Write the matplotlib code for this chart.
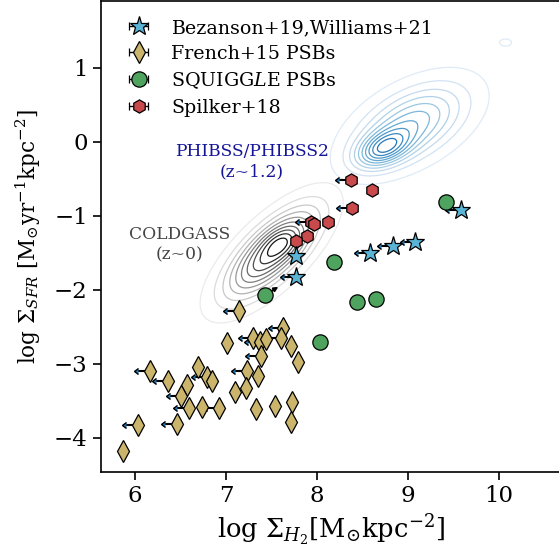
import numpy as np
import matplotlib.pyplot as plt

plt.rcParams['font.family'] = 'serif'
plt.rcParams['font.serif'] = ['DejaVu Serif']
plt.rcParams['mathtext.fontset'] = 'dejavuserif'

# Bezanson+19, Williams+21
bez_x = [9.58, 9.08, 8.83, 8.58, 7.77, 7.77]
bez_y = [-0.92, -1.35, -1.41, -1.50, -1.54, -1.83]
bez_lim = [True, True, True, True, False, True]

# French+15 PSBs
fre_x = [7.14, 7.63, 7.01, 7.30, 7.37, 7.44, 7.60, 7.71, 7.38, 7.79,
         6.16, 6.36, 6.69, 6.79, 6.84, 6.57, 7.23, 7.35, 7.22, 7.10,
         6.51, 6.59, 6.73, 6.92, 7.33, 7.54, 7.72, 7.71, 6.46, 6.03, 5.87]
fre_y = [-2.28, -2.51, -2.72, -2.65, -2.71, -2.66, -2.65, -2.76, -2.89, -2.97,
         -3.09, -3.23, -3.04, -3.18, -3.23, -3.28, -3.09, -3.17, -3.33, -3.38,
         -3.44, -3.59, -3.58, -3.59, -3.61, -3.57, -3.52, -3.79, -3.81, -3.83, -4.18]
fre_lim = [True, True, False, True, True, False, True, False, True, False,
           True, True, False, True, False, False, True, False, False, False,
           True, True, False, True, False, False, False, False, True, True, False]

# SQUIGGLE PSBs
squ_x = [9.42, 8.18, 8.44, 8.65, 8.03, 7.43]
squ_y = [-0.82, -1.63, -2.17, -2.12, -2.71, -2.07]

# Spilker+18
spi_x = [8.37, 8.60, 8.38, 8.12, 7.93, 7.97, 7.89, 7.77]
spi_y = [-0.52, -0.65, -0.89, -1.08, -1.08, -1.11, -1.28, -1.34]
spi_lim = [True, False, True, False, True, False, False, False]

# gaussian pieces standing in for the survey KDEs: x, y, sx, sy, rho, amplitude
cold_comp = [(7.50, -1.50, 0.34, 0.41, 0.72, 1.0),
             (7.62, -1.37, 0.14, 0.14, 0.30, 0.20)]
phi_comp = [(9.03, 0.23, 0.40, 0.36, 0.50, 0.60),
            (8.72, -0.10, 0.20, 0.17, 0.40, 0.60),
            (10.07, 1.34, 0.07, 0.05, 0.00, 0.09)]
level_frac = np.linspace(0.06, 0.92, 10)


def density(comp, X, Y):
    Z = np.zeros_like(X)
    for mx, my, sx, sy, r, a in comp:
        dx = (X - mx) / sx
        dy = (Y - my) / sy
        q = (dx**2 - 2 * r * dx * dy + dy**2) / (1 - r**2)
        Z += a * np.exp(-0.5 * q)
    return Z


gx, gy = np.meshgrid(np.linspace(5.5, 11.2, 400), np.linspace(-4.6, 2.0, 400))

fig = plt.figure(figsize=(5.59, 5.54), dpi=100)
ax = fig.add_axes([101 / 559, 82 / 554, 461 / 559, 471 / 554])

Zc = density(cold_comp, gx, gy)
lc = level_frac * Zc.max()
ax.contour(gx, gy, Zc, levels=lc, cmap='Greys', linewidths=0.9,
           vmin=lc[0] - 0.2 * (lc[-1] - lc[0]), vmax=lc[-1] + 0.1 * (lc[-1] - lc[0]))
Zp = density(phi_comp, gx, gy)
lp = level_frac * Zp.max()
ax.contour(gx, gy, Zp, levels=lp, cmap='Blues', linewidths=0.9,
           vmin=lp[0] - 0.2 * (lp[-1] - lp[0]), vmax=lp[-1] + 0.45 * (lp[-1] - lp[0]))

ax.text(7.28, -0.27, 'PHIBSS/PHIBSS2\n(z~1.2)', color='#15159a', fontsize=12.3,
        ha='center', va='center')
ax.text(6.49, -1.39, 'COLDGASS\n(z~0)', color='#444444', fontsize=12.3,
        ha='center', va='center')

mk = dict(mec='k', mew=0.9, ecolor='k', elinewidth=1, capsize=3, ls='none')


def limits(xs, ys, lim):
    xs = np.array(xs)[lim]
    ys = np.array(ys)[lim]
    ax.errorbar(xs, ys, xerr=0.13, xuplims=True, fmt='none', ecolor='k',
                elinewidth=1.5, capsize=2, zorder=2)


limits(fre_x, fre_y, fre_lim)
limits(bez_x, bez_y, bez_lim)
limits(spi_x, spi_y, spi_lim)
ax.annotate('', xy=(7.6, -1.94), xytext=(7.43, -2.07),
            arrowprops=dict(arrowstyle='-|>', color='k', lw=1.4, mutation_scale=6),
            zorder=2)

ax.errorbar(bez_x, bez_y, xerr=0, fmt='*', color='#5ab4d6', ms=14,
            label='Bezanson+19,Williams+21', zorder=5, **mk)
ax.errorbar(fre_x, fre_y, xerr=0, fmt='d', color='#cbb56c', ms=11,
            label='French+15 PSBs', zorder=4, **mk)
ax.errorbar(squ_x, squ_y, xerr=0, fmt='o', color='#4ea45e', ms=11,
            label='SQUIGG$\\mathit{L}$E PSBs', zorder=4, **mk)
ax.errorbar(spi_x, spi_y, xerr=0, fmt='h', color='#c94a4d', ms=9.5,
            label='Spilker+18', zorder=4, **mk)

ax.set_xlim(5.626, 10.69)
ax.set_ylim(-4.46, 1.9)
ax.set_xticks([6, 7, 8, 9, 10])
ax.set_yticks([-4, -3, -2, -1, 0, 1])
ax.tick_params(labelsize=16.5, length=6, width=1.2)
for s in ax.spines.values():
    s.set_linewidth(1.2)
ax.set_xlabel('log $\\Sigma_{H_2}$[M$_{\\odot}$kpc$^{-2}$]', fontsize=18.5)
ax.set_ylabel('log $\\Sigma_{SFR}$ [M$_{\\odot}$yr$^{-1}$kpc$^{-2}$]', fontsize=15.5,
              labelpad=8)

ax.legend(loc='upper left', bbox_to_anchor=(0.016, 0.994), frameon=False,
          fontsize=13.7, handletextpad=0.9, handlelength=1.6, borderaxespad=0.4,
          labelspacing=0.4)

fig.savefig('out.png', dpi=100)
